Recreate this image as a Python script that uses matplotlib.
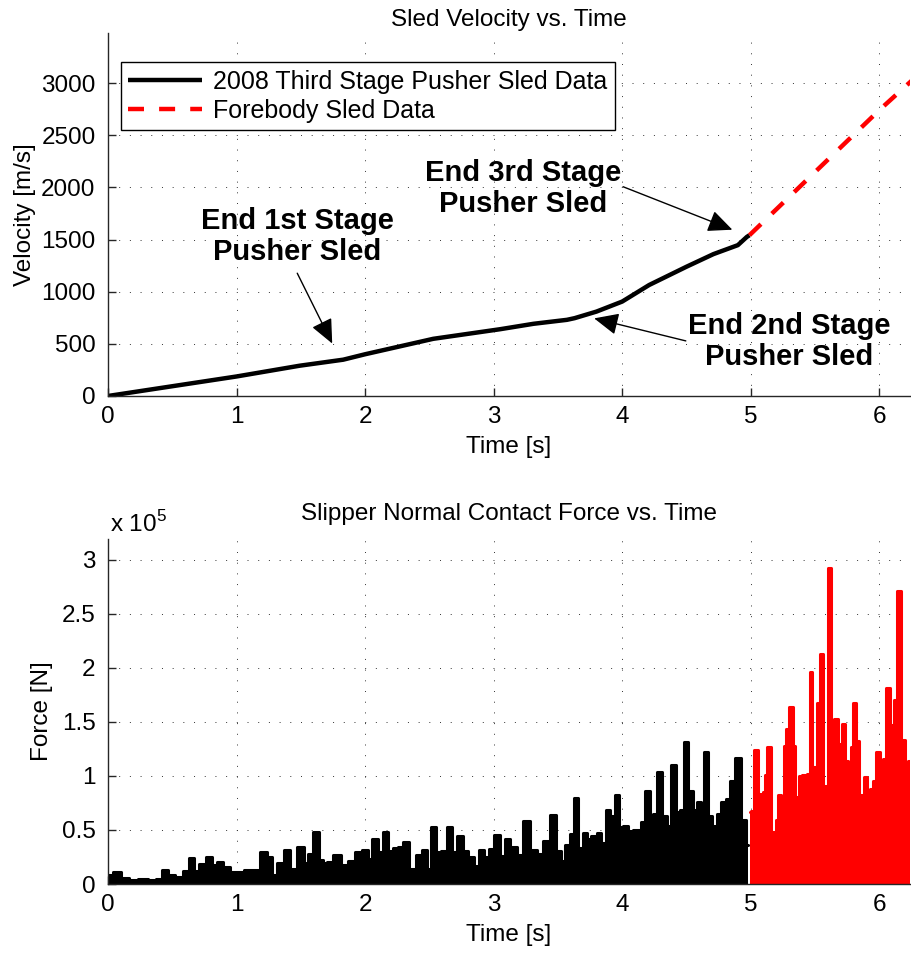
import numpy as np
import matplotlib
matplotlib.use('Agg')
import matplotlib.pyplot as plt

plt.rcParams['font.family'] = ['Liberation Sans', 'DejaVu Sans']
plt.rcParams['mathtext.fontset'] = 'custom'
plt.rcParams['mathtext.rm'] = 'Liberation Sans'
plt.rcParams['font.size'] = 17.5

# velocity data [s], [m/s]
t_pusher = [0, 1.0, 1.49, 1.83, 2.0, 2.53, 3.05, 3.31, 3.57, 3.63, 3.8, 4.0,
            4.21, 4.5, 4.71, 4.9, 4.97, 4.99]
v_pusher = [0, 187, 290, 348, 400, 548, 640, 692, 730, 746, 809, 905,
            1064, 1239, 1360, 1446, 1525, 1541]
t_fore = [4.99, 6.0, 6.25]
v_fore = [1541, 2740, 3020]

# contact force [x 1e5 N]
t_f_black = [0.003, 0.075, 0.132, 0.197, 0.275, 0.34, 0.404, 0.443, 0.495, 0.547,
             0.612, 0.643, 0.689, 0.733, 0.793, 0.832, 0.871, 0.923, 0.974, 1.026,
             1.091, 1.156, 1.213, 1.26, 1.286, 1.345, 1.397, 1.441, 1.506, 1.539,
             1.571, 1.623, 1.656, 1.69, 1.714, 1.786, 1.838, 1.895, 1.947, 2.012,
             2.038, 2.076, 2.12, 2.165, 2.198, 2.232, 2.279, 2.315, 2.367, 2.421,
             2.465, 2.496, 2.532, 2.569, 2.61, 2.657, 2.693, 2.737, 2.781, 2.823,
             2.867, 2.906, 2.945, 2.978, 3.035, 3.066, 3.103, 3.152, 3.204, 3.253,
             3.308, 3.36, 3.411, 3.463, 3.502, 3.541, 3.575, 3.606, 3.64, 3.679,
             3.71, 3.736, 3.783, 3.819, 3.853, 3.891, 3.925, 3.956, 3.99, 4.029,
             4.065, 4.099, 4.13, 4.163, 4.197, 4.229, 4.255, 4.293, 4.333, 4.364,
             4.403, 4.436, 4.462, 4.494, 4.53, 4.566, 4.597, 4.623, 4.651, 4.682,
             4.716, 4.752, 4.786, 4.824, 4.858, 4.902, 4.948, 4.979]
f_black = [0.083, 0.114, 0.053, 0.040, 0.046, 0.037, 0.046, 0.133, 0.083, 0.062,
           0.123, 0.237, 0.123, 0.182, 0.253, 0.179, 0.200, 0.154, 0.114, 0.114,
           0.130, 0.130, 0.293, 0.247, 0.083, 0.194, 0.315, 0.139, 0.346, 0.194,
           0.278, 0.478, 0.225, 0.194, 0.20, 0.268, 0.176, 0.216, 0.299, 0.312,
           0.231, 0.417, 0.299, 0.478, 0.309, 0.33, 0.34, 0.386, 0.139, 0.268,
           0.315, 0.139, 0.525, 0.293, 0.309, 0.531, 0.293, 0.441, 0.309, 0.247,
           0.164, 0.315, 0.247, 0.324, 0.454, 0.262, 0.417, 0.34, 0.268, 0.586,
           0.315, 0.278, 0.40, 0.639, 0.309, 0.216, 0.361, 0.463, 0.793, 0.330,
           0.469, 0.417, 0.448, 0.472, 0.377, 0.688, 0.633, 0.824, 0.525, 0.54,
           0.494, 0.5, 0.503, 0.577, 0.864, 0.5, 0.648, 1.034, 0.633, 0.534,
           1.096, 0.670, 0.688, 1.312, 0.864, 0.688, 0.756, 0.386, 1.225, 0.633,
           0.534, 0.648, 0.762, 0.787, 0.948, 1.167, 0.593, 0.361]
t_f_red = [4.992, 5.01, 5.039, 5.068, 5.089, 5.109, 5.117, 5.143, 5.171, 5.192,
           5.205, 5.226, 5.252, 5.27, 5.285, 5.316, 5.337, 5.35, 5.368, 5.381,
           5.42, 5.459, 5.464, 5.485, 5.511, 5.524, 5.55, 5.581, 5.615, 5.633,
           5.659, 5.692, 5.726, 5.744, 5.77, 5.79, 5.809, 5.835, 5.855, 5.873,
           5.891, 5.917, 5.933, 5.964, 5.99, 6.016, 6.042, 6.068, 6.099, 6.125,
           6.153, 6.184, 6.21, 6.24]
f_red = [0.664, 0.679, 1.235, 0.833, 0.454, 0.849, 1.01, 1.265, 0.478, 0.355,
         0.596, 0.824, 0.818, 1.275, 1.435, 1.636, 1.275, 0.556, 0.802, 1.003,
         1.009, 1.019, 1.96, 1.083, 1.083, 1.676, 2.130, 0.904, 2.923, 1.5,
         1.522, 1.296, 1.481, 1.141, 0.880, 1.265, 1.676, 1.318, 0.824, 0.725,
         0.987, 0.602, 0.88, 0.957, 1.219, 1.083, 1.157, 1.812, 1.472, 1.698,
         2.707, 1.327, 0.904, 1.141]

fig = plt.figure(figsize=(9.11, 9.56), dpi=100)
ax1 = fig.add_axes([0.1186, 0.5858, 0.8804, 0.3797])
ax2 = fig.add_axes([0.1186, 0.0753, 0.8804, 0.3609])

grid_kw = dict(color='0.2', linestyle=(0, (1, 10)), linewidth=0.7)
for ax in (ax1, ax2):
    for s in ('top', 'right'):
        ax.spines[s].set_visible(False)
    for s in ('left', 'bottom'):
        ax.spines[s].set_linewidth(1.0)
        ax.spines[s].set_color('0.15')
    ax.tick_params(direction='in', length=6, width=1.0, color='0.15', labelsize=17.5)
    ax.tick_params(axis='y', pad=9)
    ax.tick_params(axis='x', pad=7)
    ax.grid(True, **grid_kw)
    ax.set_axisbelow(True)
    ax.set_xlim(0, 6.24)
    ax.set_xticks(range(7))
    ax.set_xlabel('Time [s]', labelpad=6)

# top panel
ax1.plot(t_pusher, v_pusher, color='k', lw=3.2, solid_capstyle='butt',
         label='2008 Third Stage Pusher Sled Data')
ax1.plot(t_fore, v_fore, color='#ff0000', lw=3.2, linestyle=(0, (3.6, 3.4)),
         label='Forebody Sled Data')
ax1.set_ylim(0, 3480)
ax1.set_yticks(range(0, 3001, 500))
ax1.set_ylabel('Velocity [m/s]', labelpad=4)
ax1.set_title('Sled Velocity vs. Time', fontsize=17.5, pad=5)
leg = ax1.legend(loc='upper left', bbox_to_anchor=(0.016, 0.92), borderaxespad=0,
                 fancybox=False, edgecolor='k', framealpha=1, handlelength=2.95,
                 handletextpad=0.45, labelspacing=0.2, borderpad=0.3, fontsize=18)
leg.get_frame().set_linewidth(1.0)

arrow_kw = dict(arrowstyle='-|>,head_length=1.0,head_width=0.45', color='k',
                lw=1.0, mutation_scale=15, shrinkA=0, shrinkB=0)
txt_kw = dict(fontsize=21, fontweight='bold', ha='center', va='center',
              linespacing=1.15)
ax1.text(1.47, 1530, 'End 1st Stage\nPusher Sled', **txt_kw)
ax1.annotate('', xy=(1.744, 503), xytext=(1.472, 1177), arrowprops=arrow_kw)
ax1.text(3.227, 1988, 'End 3rd Stage\nPusher Sled', **txt_kw)
ax1.annotate('', xy=(4.857, 1594), xytext=(4.007, 2006), arrowprops=arrow_kw)
ax1.text(5.3, 521, 'End 2nd Stage\nPusher Sled', **txt_kw)
ax1.annotate('', xy=(3.782, 744), xytext=(4.495, 528), arrowprops=arrow_kw)

# bottom panel
ax2.fill_between(t_f_black, f_black, step='mid', color='k', lw=0)
ax2.plot(t_f_black, f_black, drawstyle='steps-mid', color='k', lw=2.2,
         solid_joinstyle='round', solid_capstyle='round')
ax2.fill_between(t_f_red, f_red, step='mid', color='#ff0000', lw=0)
ax2.plot(t_f_red, f_red, drawstyle='steps-mid', color='#ff0000', lw=2.2,
         solid_joinstyle='round', solid_capstyle='round')
ax2.set_ylim(0, 3.19)
ax2.set_yticks([0, 0.5, 1, 1.5, 2, 2.5, 3])
ax2.set_yticklabels(['0', '0.5', '1', '1.5', '2', '2.5', '3'])
ax2.set_ylabel('Force [N]', labelpad=6)
ax2.set_title('Slipper Normal Contact Force vs. Time', fontsize=17.5, pad=14)
ax2.text(0.002, 1.005, r'x 10$^{5}$', transform=ax2.transAxes, fontsize=17.5,
         ha='left', va='bottom')

fig.savefig('out.png', dpi=100)
